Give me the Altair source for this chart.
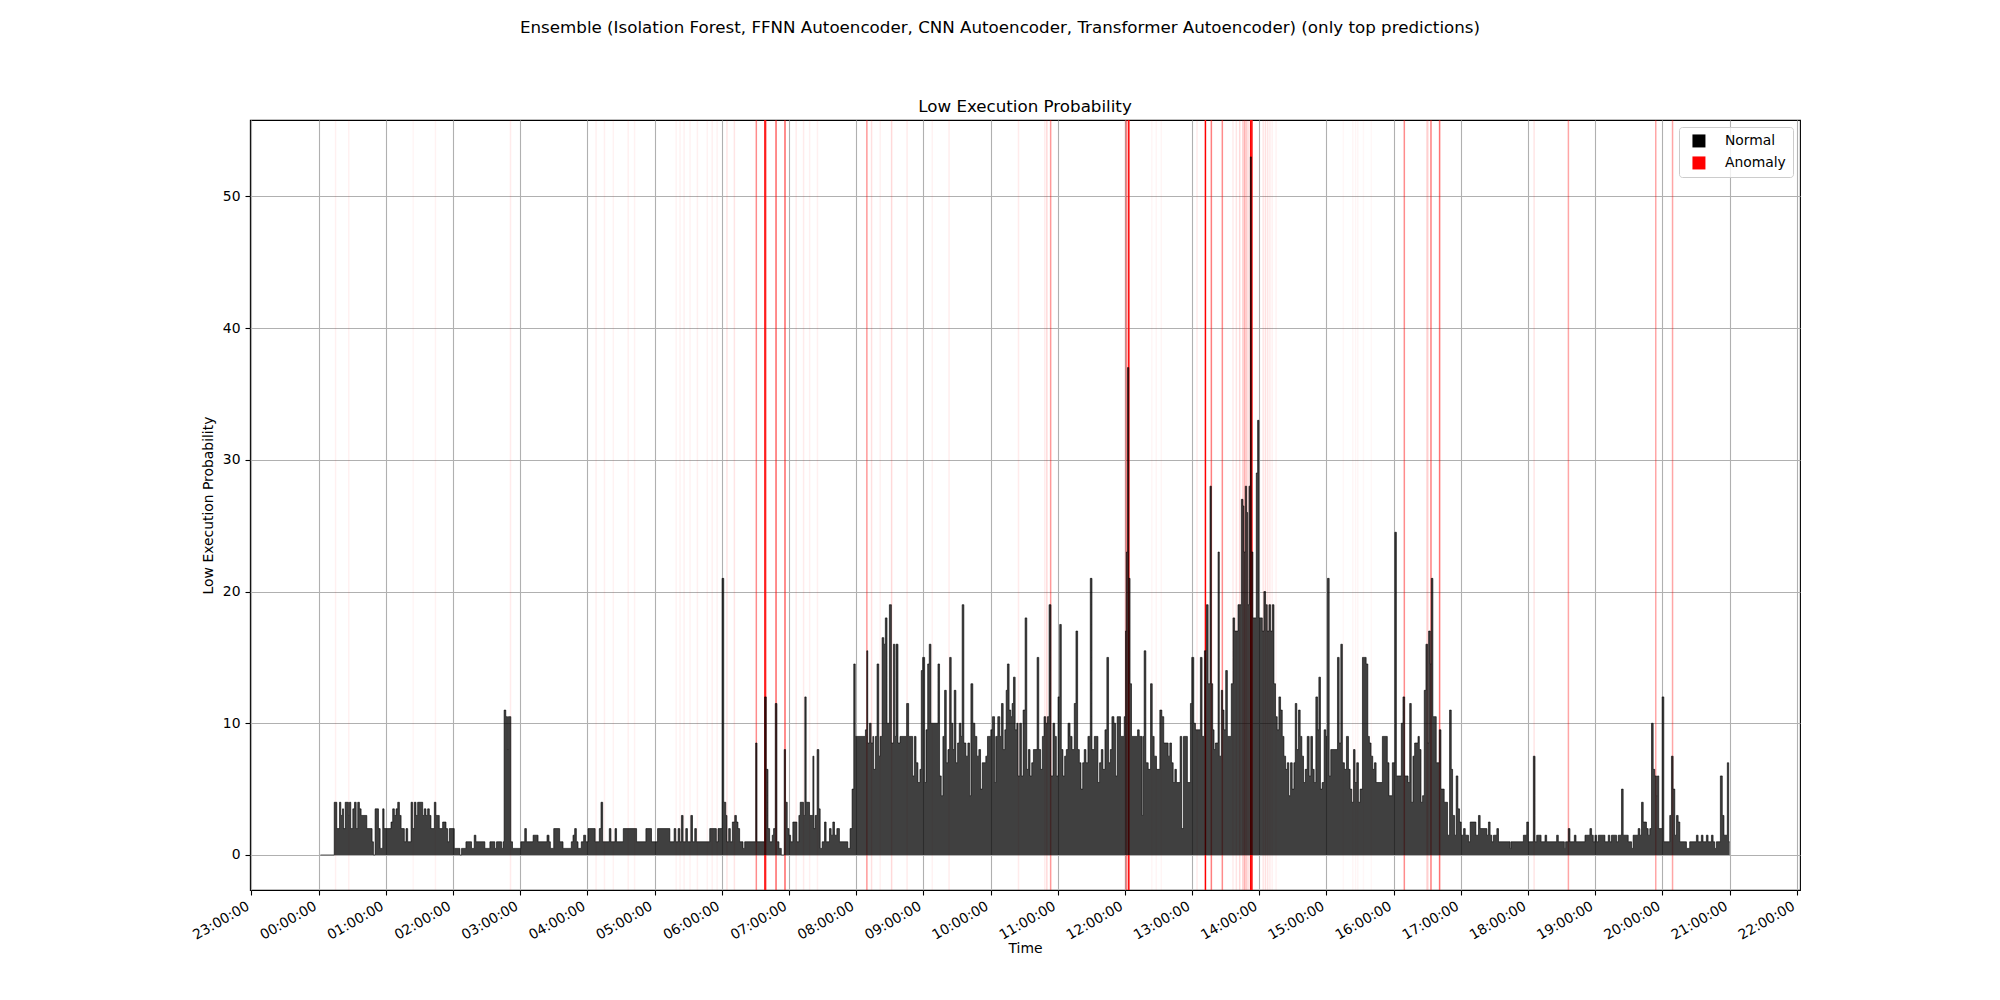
import altair as alt
import pandas as pd

FONT = "DejaVu Sans"
SUPTITLE = ("Ensemble (Isolation Forest, FFNN Autoencoder, CNN Autoencoder, "
            "Transformer Autoencoder) (only top predictions)")
TITLE = "Low Execution Probability"

# (minutes after 00:00, low execution probability); a value holds until the next entry
seg_00_04 = [
    (1.7, 0), (14.0, 4), (16.3, 2), (18.7, 4), (19.9, 3), (21.4, 3.5), (22.3, 2), (23.8, 4),
    (26.7, 3), (27.6, 4), (28.8, 2), (30.6, 3.5), (32.1, 4), (33.6, 2), (35.0, 4), (36.5, 3.5),
    (38.0, 3), (43.1, 2), (47.8, 1), (49.0, 0), (50.5, 3.5), (53.5, 2), (55.0, 0.5), (57.3, 3.5),
    (58.5, 2), (64.7, 2.5), (66.2, 3.5), (67.7, 3), (69.2, 3.5), (70.7, 4), (72.2, 3), (73.7, 2),
    (76.6, 1), (78.1, 2), (79.6, 1), (82.6, 4), (84.0, 2), (85.5, 4), (87.0, 3), (88.5, 4),
    (93.0, 3), (94.4, 3.5), (95.9, 3), (97.4, 3.5), (98.9, 3), (100.4, 2), (103.4, 4), (104.8, 3),
    (107.8, 2), (110.8, 2.5), (113.8, 2), (115.2, 1), (116.7, 2), (121.2, 0.5), (126.2, 0),
    (127.7, 0.5), (131.6, 1), (136.6, 0.5), (139.0, 1.5), (140.5, 1), (148.5, 0.5), (153.0, 1),
    (157.4, 0.5), (158.9, 1), (163.4, 0.5), (164.8, 1), (165.7, 11), (167.2, 10.5), (168.7, 8),
    (169.5, 10.5), (171.7, 1), (173.2, 0.5), (180.6, 1), (184.1, 2), (185.6, 1), (191.6, 1.5),
    (196.0, 1), (204.0, 1.5), (205.8, 1), (207.0, 0.5), (210.0, 2), (215.3, 1), (218.3, 0.5),
    (225.7, 1), (227.2, 1.5), (228.7, 2), (230.2, 1), (231.7, 0.5), (234.6, 1), (236.7, 1.5),
    (238.5, 1),
]
seg_04_08 = [
    (240.6, 2), (247.0, 1), (250.7, 2), (252.2, 4), (253.7, 1), (259.6, 2), (261.1, 1), (264.7, 2),
    (266.1, 1), (272.1, 2), (284.0, 1), (292.3, 2), (297.3, 1), (302.7, 2), (313.7, 1), (317.5, 2),
    (319.0, 1), (321.1, 2), (322.6, 1), (324.0, 3), (325.5, 1), (327.9, 2), (329.4, 1), (332.4, 3),
    (333.9, 1), (335.9, 2), (337.4, 1), (349.3, 2), (355.2, 1), (356.7, 2), (360.3, 21), (361.8, 4),
    (363.6, 3), (364.7, 1), (366.2, 2), (367.7, 1), (369.5, 2.5), (371.6, 3), (373.1, 2.5),
    (374.5, 2), (376.0, 1), (379.0, 0.5), (380.5, 1), (390.3, 8.5), (391.5, 1), (398.3, 12),
    (399.8, 6.5), (401.3, 2), (402.8, 1), (405.1, 1.5), (406.3, 2), (407.8, 11.5), (409.3, 1),
    (411.1, 0.5), (413.2, 0), (415.8, 8), (417.0, 4), (418.5, 2), (420.0, 1.5), (421.5, 1),
    (423.5, 2.5), (427.1, 1), (428.9, 3), (430.1, 4), (433.0, 3), (434.2, 12), (435.4, 4),
    (438.4, 3), (441.4, 7.5), (442.3, 2), (443.4, 3), (445.2, 8), (446.7, 3.5), (447.9, 0.5),
    (449.7, 1), (451.8, 2.5), (453.2, 1), (456.2, 2), (457.7, 1.5), (459.2, 2.5), (460.7, 1.5),
    (462.8, 2), (465.1, 1), (472.6, 0.5), (474.6, 2), (476.4, 5), (477.9, 14.5), (479.2, 9),
]
seg_08_12 = [
    (480.0, 9), (488.3, 9.5), (489.5, 15.5), (490.4, 8.5), (491.9, 10), (493.4, 8.5), (494.9, 9),
    (495.7, 6.5), (497.2, 9), (498.7, 14.5), (500.2, 7.5), (501.4, 9), (503.2, 16.5), (504.7, 16),
    (506.1, 18), (507.6, 10), (509.7, 19), (511.5, 8.5), (513.3, 16), (514.5, 9), (515.6, 16),
    (517.4, 8.5), (519.2, 9), (525.1, 11.5), (526.9, 9), (530.5, 6), (532.0, 9), (533.5, 7),
    (535.2, 5.5), (537.0, 6.5), (538.2, 14), (539.4, 15), (541.2, 5.5), (542.4, 9.5), (543.9, 14.5),
    (545.3, 16), (546.8, 10), (553.1, 14.5), (554.5, 6), (556.0, 4.5), (557.5, 9), (559.0, 12.5),
    (560.5, 7), (562.0, 8), (563.5, 15), (564.9, 10), (566.4, 8), (567.6, 12.5), (569.1, 7),
    (570.6, 8.5), (572.1, 10), (573.6, 9), (574.7, 19), (576.2, 8.5), (578.0, 7.5), (579.8, 8.5),
    (581.3, 4.5), (582.5, 13), (584.2, 10), (586.0, 9), (587.8, 7.5), (589.6, 8), (591.1, 5),
    (592.6, 7), (595.8, 7.5), (597.3, 9), (600.3, 9.5), (601.8, 10.5), (603.6, 5.5), (604.7, 9),
    (606.5, 10.5), (608.3, 9), (609.8, 11.5), (611.3, 8), (612.8, 9.5), (614.0, 12.5), (615.1, 14.5),
    (616.6, 11), (618.1, 10.5), (619.3, 11.5), (620.5, 13.5), (622.0, 9.5), (623.5, 10), (624.6, 6),
    (626.1, 10), (627.6, 6), (629.1, 11), (630.9, 18), (632.4, 6.5), (633.8, 8), (635.3, 6),
    (636.8, 7), (638.3, 8), (641.6, 15), (643.1, 8), (644.8, 6.5), (646.3, 9), (647.8, 10.5),
    (649.3, 10), (650.8, 10.5), (652.3, 19), (654.0, 6), (655.8, 10), (657.3, 9), (658.8, 6),
    (660.3, 12), (661.8, 17.5), (663.2, 8), (664.7, 6), (666.2, 7.5), (667.7, 8), (669.2, 10),
    (671.0, 9), (672.8, 8), (674.8, 11.5), (676.3, 17), (677.8, 8), (679.3, 7), (680.8, 5),
    (682.3, 7), (683.7, 8), (685.2, 7), (687.0, 9), (689.1, 21), (690.6, 8), (692.7, 9),
    (695.9, 5.5), (697.4, 7), (698.9, 8), (700.4, 6.5), (702.2, 9.5), (703.9, 15), (705.4, 7),
    (706.9, 8), (708.4, 10.5), (710.2, 10), (711.7, 6), (713.1, 10.5), (716.1, 9), (719.4, 10.5),
]
seg_12_16 = [
    (720.6, 17), (721.4, 23), (722.3, 37), (723.4, 21), (724.6, 13), (725.9, 9), (731.3, 9.5),
    (732.8, 9), (735.4, 3), (736.3, 9), (737.2, 15.5), (738.7, 7), (740.8, 6.5), (742.9, 13),
    (744.4, 9), (746.1, 7.5), (748.2, 6.5), (751.2, 11), (753.0, 10.5), (754.7, 8.5), (758.6, 7.5),
    (760.1, 8.5), (761.6, 7), (763.1, 5.5), (764.6, 6.5), (766.0, 5.5), (769.3, 9), (770.8, 2),
    (772.3, 9), (775.8, 5.5), (778.5, 11.5), (779.7, 15), (781.5, 10), (783.0, 9.5), (787.4, 15),
    (788.9, 9), (791.0, 15.5), (792.8, 19), (794.3, 13), (796.0, 28), (797.2, 13), (798.4, 9.5),
    (799.6, 8), (800.8, 8.5), (803.2, 23), (804.3, 7.5), (806.1, 12.5), (807.3, 11), (808.5, 9.5),
    (810.0, 14), (811.5, 9), (815.0, 13), (816.5, 18), (818.0, 17), (821.0, 19), (824.0, 27),
    (825.4, 26.5), (826.3, 23), (827.5, 28), (828.7, 26), (829.6, 19), (830.8, 28), (832.0, 53),
    (832.9, 23), (834.3, 18), (837.3, 29), (838.5, 33), (839.7, 18), (842.7, 17), (844.1, 20),
    (845.6, 19), (847.1, 17), (848.6, 19), (850.1, 17), (851.6, 19), (853.1, 13), (854.5, 10.5),
    (856.0, 9.5), (857.5, 12), (859.0, 11), (860.5, 9), (862.0, 7.5), (863.5, 6.5), (865.0, 7),
    (866.4, 4.5), (867.9, 7), (869.4, 5), (870.9, 7), (872.1, 11.5), (873.5, 8), (875.0, 11),
    (876.5, 9), (878.0, 7.5), (879.5, 5.5), (881.0, 6.5), (882.8, 9), (884.5, 6), (886.0, 9),
    (887.5, 6.5), (889.0, 5.5), (890.5, 12), (892.0, 9.5), (893.2, 13.5), (894.6, 5), (896.1, 5.5),
    (897.9, 9.5), (899.4, 9), (900.9, 21), (902.4, 6), (903.8, 8), (909.8, 15), (911.3, 8.5),
    (912.8, 16), (914.2, 7), (916.0, 6.5), (917.8, 9), (919.6, 6.5), (921.1, 5), (922.6, 4),
    (924.1, 8), (925.5, 5.5), (927.0, 7), (928.5, 4), (930.0, 5), (932.1, 15), (935.4, 14.5),
    (936.9, 9), (938.3, 8.5), (939.8, 7.5), (941.3, 6.5), (942.8, 7), (944.3, 5.5), (949.9, 9),
    (954.3, 7), (955.8, 4.5), (958.8, 7),
]
seg_16_21 = [
    (961.0, 24.5), (962.4, 6), (966.8, 10), (968.3, 12), (969.8, 6), (972.8, 5.5), (974.3, 11.5),
    (975.7, 4), (977.2, 7.5), (978.7, 8.5), (981.7, 9), (982.9, 8), (984.4, 4), (985.8, 4.5),
    (987.3, 12.5), (988.8, 16), (990.3, 8.5), (991.2, 17), (992.7, 14.5), (993.6, 21), (995.0, 10.5),
    (998.0, 7), (1000.7, 9.5), (1002.2, 5), (1005.1, 4), (1008.1, 1.5), (1009.9, 11), (1011.4, 6.5),
    (1012.6, 3), (1014.4, 1.5), (1015.8, 6), (1017.3, 3.5), (1018.8, 2.5), (1020.3, 1.5),
    (1022.4, 2), (1023.9, 1.5), (1026.8, 1), (1028.3, 2.5), (1033.4, 1.5), (1035.7, 3), (1037.2, 2),
    (1043.2, 1.5), (1044.6, 2.5), (1046.1, 1.5), (1047.6, 1), (1049.1, 1.5), (1052.1, 2),
    (1053.6, 1), (1064.0, 0.5), (1064.8, 1), (1075.8, 1.5), (1078.8, 2.5), (1080.3, 1),
    (1084.7, 7.5), (1086.2, 1), (1087.7, 1.5), (1091.6, 1), (1095.1, 1.5), (1096.6, 1),
    (1105.5, 1.5), (1107.0, 1), (1112.4, 0.5), (1113.5, 1), (1115.9, 2), (1117.4, 1), (1121.3, 1.5),
    (1122.8, 1), (1130.8, 1.5), (1135.2, 2), (1136.7, 1.5), (1138.2, 1), (1139.7, 1.5), (1141.2, 1),
    (1142.7, 1.5), (1148.6, 1), (1151.6, 1.5), (1153.0, 1), (1154.5, 1.5), (1159.0, 1),
    (1160.5, 1.5), (1163.4, 5), (1164.9, 1.5), (1169.4, 1), (1172.4, 0.5), (1173.8, 1.5),
    (1178.3, 2), (1179.8, 1.5), (1181.3, 4), (1182.8, 2.5), (1185.7, 2), (1187.2, 1.5), (1188.7, 2),
    (1190.2, 10), (1191.7, 6.5), (1193.1, 6), (1194.6, 4.5), (1195.5, 6), (1196.7, 2), (1199.7, 12),
    (1201.2, 1), (1206.5, 3), (1208.0, 7.5), (1209.5, 5), (1211.0, 1.5), (1212.5, 3), (1214.0, 2.5),
    (1215.5, 1), (1221.4, 0.5), (1224.3, 1), (1230.3, 1.5), (1231.8, 1), (1234.7, 1.5), (1236.2, 1),
    (1239.2, 1.5), (1240.7, 1), (1243.7, 1.5), (1245.2, 1), (1246.6, 0.5), (1248.1, 1), (1251.7, 6),
    (1253.4, 3), (1254.9, 1.5), (1257.9, 7), (1259.1, 1), (1260.0, 1),
]

# anomaly markers: (minutes after 00:00, strength shown as line opacity)
anomalies = [
    (15.2, 0.06), (27.0, 0.06), (84.5, 0.04), (104.4, 0.05), (171.4, 0.08),
    (247.8, 0.06), (255.3, 0.06), (263.2, 0.05), (276.5, 0.06), (282.2, 0.05),
    (319.3, 0.05), (322.8, 0.05), (326.4, 0.06), (331.7, 0.05), (338.3, 0.06), (347.1, 0.05),
    (351.5, 0.06), (355.9, 0.05), (364.7, 0.1), (371.3, 0.1),
    (390.9, 0.45), (398.6, 1.0), (399.3, 0.6), (408.5, 0.6), (416.5, 0.6),
    (426.5, 0.08), (433.1, 0.08), (438.5, 0.06), (445.5, 0.06),
    (489.6, 0.4), (493.8, 0.12), (501.5, 0.06), (511.7, 0.15), (525.5, 0.08),
    (548.0, 0.05), (563.0, 0.07), (625.0, 0.08),
    (648.5, 0.08), (650.3, 0.15), (653.7, 0.4),
    (720.5, 0.2), (721.7, 0.5), (723.5, 1.0), (744.0, 0.04), (748.0, 0.04), (752.5, 0.04),
    (784.4, 0.08), (791.9, 1.0), (797.2, 0.5), (807.0, 0.45),
    (816.5, 0.08), (819.5, 0.1), (822.5, 0.15), (825.4, 0.2), (826.9, 0.3), (828.4, 0.2),
    (829.9, 0.15), (832.3, 1.0), (833.4, 1.0),
    (843.5, 0.1), (845.5, 0.12), (847.5, 0.1), (849.5, 0.08), (851.5, 0.06), (855.0, 0.05),
    (915.0, 0.03), (923.5, 0.04), (926.0, 0.04), (928.0, 0.04), (933.0, 0.03), (940.0, 0.03),
    (969.5, 0.45), (989.5, 0.12), (990.5, 0.15), (993.3, 0.5), (1001.0, 0.55),
    (1085.4, 0.1), (1116.0, 0.35), (1194.0, 0.35), (1209.0, 0.35),
]

legend_labels = ["Normal", "Anomaly"]
legend_colors = ["black", "red"]
hour_ticks = list(range(-60, 1321, 60))   # 23:00 of the day before .. 22:00
y_ticks = [0, 10, 20, 30, 40, 50]

series = pd.DataFrame(seg_00_04 + seg_04_08 + seg_08_12 + seg_12_16 + seg_16_21,
                      columns=["minute", "value"])
anom = pd.DataFrame(anomalies, columns=["minute", "alpha"])
legend_df = pd.DataFrame({"label": legend_labels})
titles_df = pd.DataFrame({"text": [SUPTITLE]})
subtitle_df = pd.DataFrame({"text": [TITLE]})

hour_label = ("(datum.value < 0 ? '23' : (datum.value < 600 ? '0' : '') "
              "+ format(datum.value / 60, 'd')) + ':00:00'")

x_enc = alt.X("minute:Q",
              scale=alt.Scale(domain=[-61.2, 1322.8], nice=False, zero=False),
              axis=alt.Axis(values=hour_ticks, labelExpr=hour_label, labelAngle=330,
                            labelAlign="right", labelBaseline="bottom", labelPadding=16,
                            labelOverlap=False, labelFlush=False, title="Time",
                            titleY=58, titleBaseline="middle"))
y_enc = alt.Y("value:Q",
              scale=alt.Scale(domain=[-2.66, 55.8], nice=False, zero=False),
              axis=alt.Axis(values=y_ticks, title=TITLE, titleX=-42, titleBaseline="middle"))

rules = alt.Chart(anom).mark_rule(color="red", strokeWidth=1.5).encode(
    x=x_enc,
    opacity=alt.Opacity("alpha:Q", scale=None, legend=None),
)
area = alt.Chart(series).mark_area(interpolate="step-after", color="black", opacity=0.75).encode(
    x=x_enc, y=y_enc
)
outline = alt.Chart(series).mark_line(interpolate="step-after", color="black",
                                      opacity=0.6, strokeWidth=1).encode(x=x_enc, y=y_enc)

legend_layer = alt.Chart(legend_df).mark_square(opacity=0, size=1).encode(
    color=alt.Color("label:N", title=None,
                    scale=alt.Scale(domain=legend_labels, range=legend_colors),
                    legend=alt.Legend(orient="top-right", offset=7, symbolType="square",
                                      symbolSize=169, symbolOpacity=1, symbolStrokeWidth=0,
                                      labelFont=FONT, labelFontSize=13.9, labelColor="black",
                                      labelOffset=19, symbolOffset=6, padding=7, rowPadding=7,
                                      fillColor="rgba(255,255,255,0.8)", strokeColor="#cccccc",
                                      cornerRadius=3))
)

suptitle = alt.Chart(titles_df).mark_text(font=FONT, fontSize=16.7, align="center",
                                          baseline="top", color="black").encode(
    text="text:N", x=alt.value(750), y=alt.value(-100)
)
subtitle = alt.Chart(subtitle_df).mark_text(font=FONT, fontSize=16.7, align="center",
                                            baseline="alphabetic", color="black").encode(
    text="text:N", x=alt.value(775), y=alt.value(-8)
)

chart = alt.layer(rules, area, outline, legend_layer, suptitle, subtitle).properties(
    width=1550,
    height=770,
    autosize=alt.AutoSizeParams(type="none"),
    padding={"left": 242, "top": 112, "right": 192, "bottom": 102},
).configure_view(
    stroke="black", strokeWidth=1.1
).configure_axis(
    labelFont=FONT, labelFontSize=13.9, labelColor="black",
    titleFont=FONT, titleFontSize=13.9, titleFontWeight="normal", titleColor="black",
    tickColor="black", tickSize=5, tickWidth=1.1, labelPadding=5,
    gridColor="#b0b0b0", gridWidth=1.1, gridOpacity=1, domain=False,
)

chart.save("out.html", embed_options={"renderer": "svg", "actions": False})
